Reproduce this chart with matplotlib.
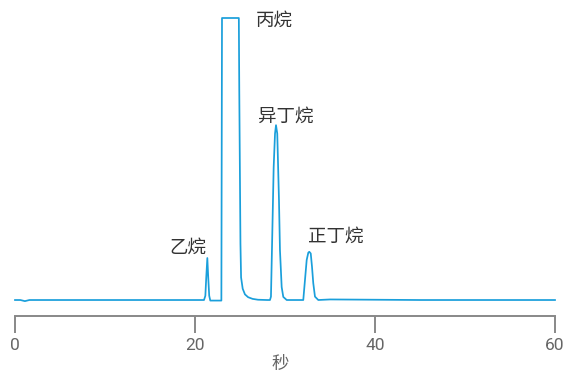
import matplotlib
matplotlib.use("Agg")
import matplotlib.pyplot as plt

plt.rcParams['font.family'] = ['Noto Sans CJK SC', 'DejaVu Sans']

# Chromatogram trace (time in s, signal in arbitrary units; 100 = detector saturation)
time_s = [0.0, 0.6, 1.1, 1.6, 10.0, 20.0, 21.0, 21.15, 21.25, 21.37, 21.47, 21.58, 21.7,
          22.5, 22.93, 23.0, 23.5, 24.0, 24.5, 24.87, 24.92, 25.05, 25.12, 25.3, 25.55,
          25.9, 26.4, 27.0, 28.0, 28.33, 28.44, 28.59, 28.74, 28.89, 29.0, 29.14, 29.33,
          29.44, 29.63, 29.81, 30.19, 31.0, 32.03, 32.22, 32.41, 32.59, 32.7, 32.86, 33.0,
          33.14, 33.33, 33.7, 35.0, 45.0, 60.0]
signal = [0.0, 0.0, -0.4, 0.0, 0.0, 0.0, 0.0, 1.5, 8.0, 14.9, 8.0, 1.5, -0.2,
          -0.2, -0.2, 100.0, 100.0, 100.0, 100.0, 100.0, 74.0, 20.0, 8.0, 4.0, 2.0,
          1.0, 0.4, 0.1, 0.0, 0.0, 1.2, 23.8, 47.0, 59.0, 62.0, 59.0, 35.5,
          17.7, 4.6, 1.1, 0.0, 0.0, 0.0, 7.1, 14.2, 16.8, 17.1, 16.5, 11.8,
          6.0, 1.2, 0.0, 0.2, 0.0, 0.0]

peak_names = ['乙烷', '丙烷', '异丁烷', '正丁烷']
label_x = [21.3, 26.8, 27.0, 32.6]
label_y = [18.5, 99.0, 65.0, 22.5]
label_ha = ['right', 'left', 'left', 'left']

x_ticks = [0, 20, 40, 60]
x_label = '秒'

W, H = 565, 373
fig = plt.figure(figsize=(W / 100, H / 100), dpi=100)
ax = fig.add_axes([15 / W, 1 - 316 / H, 540 / W, 298 / H])

ax.plot(time_s, signal, color='#1a9fdb', lw=1.25, clip_on=False, solid_joinstyle='round')

ax.set_xlim(0, 60)
ax.set_ylim(-5.67, 100)

for s in ['left', 'right', 'top']:
    ax.spines[s].set_visible(False)
ax.spines['bottom'].set_color('#888888')
ax.spines['bottom'].set_linewidth(1.4)
ax.set_yticks([])
ax.set_xticks(x_ticks)
ax.set_xticklabels([str(v) for v in x_ticks],
                   family=['Roboto', 'DejaVu Sans'], fontsize=12.5, color='#666666')
ax.tick_params(axis='x', direction='out', length=12, width=1.4, color='#888888', pad=4)
ax.set_xlabel(x_label, fontsize=12.5, color='#666666')
ax.xaxis.set_label_coords(265 / 540, -0.132)

for name, lx, ly, ha in zip(peak_names, label_x, label_y, label_ha):
    ax.text(lx, ly, name, fontsize=13.3, color='#333333', ha=ha, va='center')

fig.savefig('out.png', dpi=100)
